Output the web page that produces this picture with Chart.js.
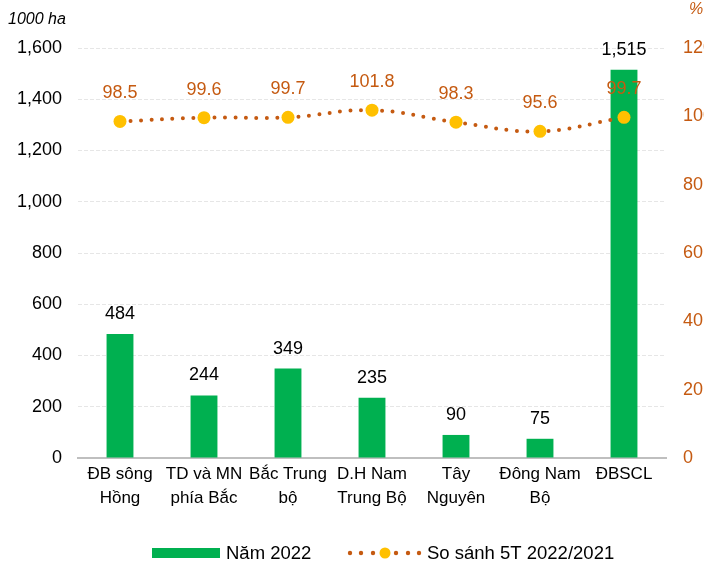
<!DOCTYPE html>
<html><head><meta charset="utf-8">
<script src="https://cdn.jsdelivr.net/npm/chart.js@4/dist/chart.umd.min.js"></script>
<style>
html,body{margin:0;padding:0;overflow:hidden;background:#fff;width:704px;height:567px;}
#wrap{position:absolute;left:0;top:0;width:730px;height:567px;}
.lab{position:absolute;font-family:"Liberation Sans",Arial,sans-serif;font-style:italic;font-size:16px;}
</style></head>
<body>
<div id="wrap"><canvas id="c" width="730" height="567"></canvas></div>
<div class="lab" style="left:8px;top:10px;color:#000;">1000 ha</div>
<div class="lab" style="left:689px;top:0px;color:#C55A11;">%</div>
<script>
const categories = [["ĐB sông","Hồng"],["TD và MN","phía Bắc"],["Bắc Trung","bộ"],["D.H Nam","Trung Bộ"],["Tây","Nguyên"],["Đông Nam","Bộ"],["ĐBSCL"]];
const area2022 = [484, 244, 349, 235, 90, 75, 1515];
const ratio = [98.5, 99.6, 99.7, 101.8, 98.3, 95.6, 99.7];
const seriesNames = ["Năm 2022", "So sánh 5T 2022/2021"];

const GREEN = '#00B050', ORANGE = '#C55A11', YELLOW = '#FFC000';
const FONT = '"Liberation Sans", Arial, sans-serif';

const labelPlugin = {
  id: 'labels',
  afterDatasetsDraw(chart) {
    const ctx = chart.ctx;
    ctx.save();
    ctx.font = '18px ' + FONT;
    ctx.textAlign = 'center';
    ctx.textBaseline = 'alphabetic';
    const mBar = chart.getDatasetMeta(1);
    mBar.data.forEach((el, i) => {
      ctx.fillStyle = '#000';
      ctx.fillText(area2022[i].toLocaleString('en-US'), el.x, el.y - 15);
    });
    const mLine = chart.getDatasetMeta(0);
    mLine.data.forEach((el, i) => {
      ctx.fillStyle = ORANGE;
      ctx.fillText(ratio[i].toFixed(1), el.x, el.y - 23);
    });
    // legend
    const ly = 553;
    ctx.fillStyle = GREEN;
    ctx.fillRect(152, ly - 5, 68, 10);
    ctx.font = '18.5px ' + FONT;
    ctx.fillStyle = '#000';
    ctx.textAlign = 'left';
    ctx.textBaseline = 'middle';
    ctx.fillText(seriesNames[0], 226, ly + 1);
    ctx.fillStyle = ORANGE;
    [350, 361, 373, 396, 408, 419].forEach(x => { ctx.beginPath(); ctx.arc(x, ly, 2.2, 0, Math.PI * 2); ctx.fill(); });
    ctx.fillStyle = YELLOW;
    ctx.beginPath(); ctx.arc(385, ly, 5.5, 0, Math.PI * 2); ctx.fill();
    ctx.fillStyle = '#000';
    ctx.fillText(seriesNames[1], 427, ly + 1);
    ctx.restore();
  }
};

new Chart(document.getElementById('c'), {
  data: {
    labels: categories,
    datasets: [
      { type: 'line', label: seriesNames[1], data: ratio, yAxisID: 'y1', order: 0,
        borderColor: ORANGE, borderWidth: 4, borderDash: [0, 10.5], borderCapStyle: 'round',
        tension: 0.4, pointRadius: 6.5, pointHoverRadius: 6.5, pointBackgroundColor: YELLOW, pointBorderWidth: 0 },
      { type: 'bar', label: seriesNames[0], data: area2022, yAxisID: 'y', order: 1,
        backgroundColor: GREEN, barPercentage: 0.32, categoryPercentage: 1.0 }
    ]
  },
  options: {
    responsive: false, animation: false,
    layout: { padding: { top: 48, bottom: 0, left: 0, right: 0 } },
    plugins: { legend: { display: false }, tooltip: { enabled: false }, title: { display: false } },
    scales: {
      x: {
        grid: { display: false, drawTicks: false },
        border: { display: true, color: '#BFBFBF', width: 2 },
        ticks: { color: '#000', font: { family: FONT, size: 17, lineHeight: 1.38 }, padding: 5, maxRotation: 0, autoSkip: false },
        afterFit: s => { s.height = 109; }
      },
      y: {
        position: 'left', min: 0, max: 1600,
        ticks: { stepSize: 200, color: '#000', font: { family: FONT, size: 18 }, padding: 16,
                 callback: v => v.toLocaleString('en-US') },
        grid: { color: '#E6E6E6', drawTicks: false },
        border: { display: false, dash: [4, 2] },
        afterFit: s => { s.width = 78; }
      },
      y1: {
        position: 'right', min: 0, max: 120,
        ticks: { stepSize: 20, color: ORANGE, font: { family: FONT, size: 18 }, padding: 17 },
        grid: { display: false, drawTicks: false },
        border: { display: false },
        afterFit: s => { s.width = 64; }
      }
    }
  },
  plugins: [labelPlugin]
});
</script>
</body></html>
